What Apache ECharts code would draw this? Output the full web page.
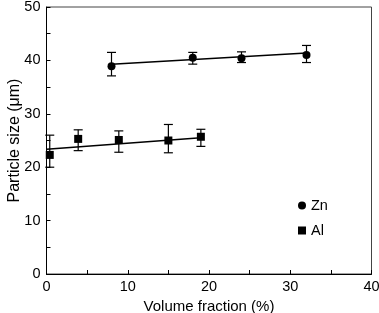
<!DOCTYPE html>
<html><head><meta charset="utf-8">
<script src="https://cdn.jsdelivr.net/npm/echarts@6/dist/echarts.min.js"></script>
<style>html,body{margin:0;padding:0;background:#fff}#c{width:379px;height:313px}</style>
</head><body><div id="c"></div>
<script>
// Zn data
var znX = [8, 18, 24, 32];
var znY = [38.9, 40.5, 40.4, 41.0];
var znLow = [37.1, 39.3, 39.6, 39.6];
var znHigh = [41.5, 41.5, 41.6, 42.8];
var znFit = [[8, 39.3], [32, 41.4]];
// Al data
var alX = [0.4, 3.9, 8.9, 15, 19];
var alY = [22.3, 25.3, 25.1, 25.0, 25.7];
var alLow = [20.0, 23.1, 22.8, 22.7, 23.9];
var alHigh = [26.0, 27.0, 26.8, 28.0, 27.1];
var alFit = [[0, 23.35], [19, 25.5]];
var xTicks = [0, 10, 20, 30, 40];
var yTicks = [0, 10, 20, 30, 40, 50];

var FONT = 'Liberation Sans, Arial, sans-serif';
function pts(xs, ys) { return xs.map(function (x, i) { return [x, ys[i]]; }); }
function errs(xs, lo, hi) { return xs.map(function (x, i) { return [x, lo[i], hi[i]]; }); }
function errRender(params, api) {
  var x = api.value(0);
  var p1 = api.coord([x, api.value(1)]);
  var p2 = api.coord([x, api.value(2)]);
  var w = 4.5;
  var st = { stroke: '#000', lineWidth: 1.2 };
  return { type: 'group', children: [
    { type: 'line', shape: { x1: p1[0], y1: p1[1], x2: p2[0], y2: p2[1] }, style: st },
    { type: 'line', shape: { x1: p1[0] - w, y1: p1[1], x2: p1[0] + w, y2: p1[1] }, style: st },
    { type: 'line', shape: { x1: p2[0] - w, y1: p2[1], x2: p2[0] + w, y2: p2[1] }, style: st }
  ]};
}
var chart = echarts.init(document.getElementById('c'), null, { renderer: 'canvas' });
chart.setOption({
  animation: false,
  backgroundColor: '#fff',
  textStyle: { fontFamily: FONT },
  grid: { left: 46.5, right: 7.5, top: 7, bottom: 39, containLabel: false, outerBoundsMode: 'none',
          show: true, borderColor: '#444', borderWidth: 1 },
  legend: {
    orient: 'vertical', left: 293, top: 193, itemWidth: 8, itemHeight: 8, itemGap: 10,
    textStyle: { fontFamily: FONT, fontSize: 14.5, color: '#000' },
    itemStyle: { opacity: 1 },
    data: [{ name: 'Zn', icon: 'circle' }, { name: 'Al', icon: 'rect' }]
  },
  xAxis: {
    type: 'value', min: xTicks[0], max: xTicks[xTicks.length - 1], interval: 10,
    name: 'Volume fraction (%)', nameLocation: 'middle', nameGap: 19,
    nameTextStyle: { fontFamily: FONT, fontSize: 15, color: '#000' },
    axisLine: { lineStyle: { color: '#000', width: 1 } },
    axisTick: { inside: true, length: 4, lineStyle: { color: '#000' } },
    minorTick: { show: true, splitNumber: 2, length: 4, lineStyle: { color: '#000' } },
    splitLine: { show: false },
    axisLabel: { fontFamily: FONT, fontSize: 14.5, color: '#000', margin: 5 }
  },
  yAxis: {
    type: 'value', min: yTicks[0], max: yTicks[yTicks.length - 1], interval: 10,
    name: 'Particle size (\u03bcm)', nameLocation: 'middle', nameGap: 24, nameMoveOverlap: false,
    nameTextStyle: { fontFamily: FONT, fontSize: 16, color: '#000' },
    axisLine: { show: true, lineStyle: { color: '#000', width: 1 } },
    axisTick: { show: true, inside: true, length: 4, lineStyle: { color: '#000' } },
    minorTick: { show: true, splitNumber: 2, length: 4, lineStyle: { color: '#000' } },
    splitLine: { show: false },
    axisLabel: { fontFamily: FONT, fontSize: 14.5, color: '#000', margin: 6 }
  },
  series: [
    { type: 'line', data: znFit, symbol: 'none', lineStyle: { color: '#000', width: 1.5 }, silent: true },
    { type: 'line', data: alFit, symbol: 'none', lineStyle: { color: '#000', width: 1.5 }, silent: true },
    { type: 'custom', renderItem: errRender, data: errs(znX, znLow, znHigh), encode: { x: 0, y: [1, 2] }, z: 3 },
    { type: 'custom', renderItem: errRender, data: errs(alX, alLow, alHigh), encode: { x: 0, y: [1, 2] }, z: 3 },
    { name: 'Zn', type: 'scatter', data: pts(znX, znY), symbol: 'circle', symbolSize: 8, itemStyle: { color: '#000', opacity: 1 }, z: 4 },
    { name: 'Al', type: 'scatter', data: pts(alX, alY), symbol: 'rect', symbolSize: 8, itemStyle: { color: '#000', opacity: 1 }, z: 4 }
  ]
});
</script></body></html>
